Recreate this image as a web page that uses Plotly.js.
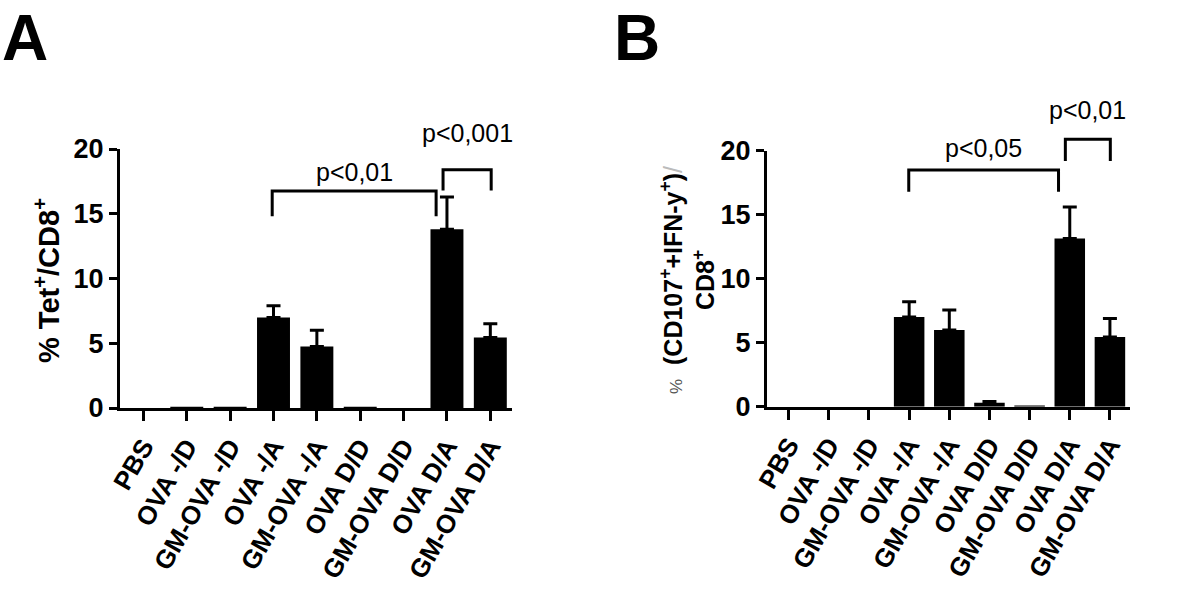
<!DOCTYPE html>
<html>
<head>
<meta charset="utf-8">
<script src="https://cdn.plot.ly/plotly-3.0.1.min.js"></script>
<style>
  body { margin: 0; background: #fff; }
  #chart { width: 1200px; height: 609px; }
</style>
</head>
<body>
<div id="chart"></div>
<script>
// groups, same in both panels
var groups = ["PBS", "OVA -/D", "GM-OVA -/D", "OVA -/A", "GM-OVA -/A",
              "OVA D/D", "GM-OVA D/D", "OVA D/A", "GM-OVA D/A"];

// panel A: % Tet+/CD8+ (mean and upper SEM)
var tetMean = [0, 0.1, 0.1, 7.0, 4.75, 0.1, 0, 13.8, 5.45];
var tetErr  = [0, 0, 0, 0.9, 1.25, 0, 0, 2.5, 1.05];

// panel B: % (CD107+ IFN-y+)/CD8+
var cdMean = [0, 0, 0, 7.0, 6.0, 0.3, 0.1, 13.15, 5.45];
var cdErr  = [0, 0, 0, 1.2, 1.55, 0.1, 0, 2.45, 1.45];

var yTicks = [0, 5, 10, 15, 20];

// significance brackets: from/to in category units, top/bottom in data units
var bracketFromA = [2.97, 6.91];
var bracketToA   = [6.75, 8.02];
var bracketTopA  = [16.75, 18.4];
var bracketLowA  = [14.8, 16.8];
var bracketTextA = ["p<0,01", "p<0,001"];
var bracketTextYA = [17.0, 20.0];

var bracketFromB = [2.99, 6.89];
var bracketToB   = [6.72, 8.01];
var bracketTopB  = [18.5, 20.9];
var bracketLowB  = [16.8, 19.2];
var bracketTextB = ["p<0,05", "p<0,01"];
var bracketTextYB = [19.0, 21.9];

var domYA = [0.330, 0.7553];
var domYB = [0.3322, 0.7525];
var yMax = 20;

function toPaper(v, dom) {
  return dom[0] + (v / yMax) * (dom[1] - dom[0]);
}

var font = "Liberation Sans, Arial, sans-serif";

function barTrace(means, errs, xa, ya) {
  return {
    type: "bar",
    x: groups.map(function(g, i) { return i; }),
    y: means,
    xaxis: xa,
    yaxis: ya,
    width: 0.76,
    marker: { color: "#000" },
    error_y: {
      type: "data",
      symmetric: false,
      // no cap where there is no error
      array: errs.map(function(e) { return e > 0 ? e : NaN; }),
      arrayminus: errs.map(function(e) { return e > 0 ? 0 : NaN; }),
      color: "#000",
      thickness: 3,
      width: 7
    },
    hoverinfo: "none",
    showlegend: false
  };
}

function xAxis(dom, anchor) {
  return {
    domain: dom,
    anchor: anchor,
    range: [-0.54, 8.5],
    tickvals: groups.map(function(g, i) { return i; }),
    ticktext: groups,
    tickangle: -60,
    ticks: "outside",
    ticklen: 10,
    tickwidth: 3,
    tickcolor: "#000",
    showline: true,
    linewidth: 3,
    linecolor: "#000",
    showgrid: false,
    zeroline: false,
    fixedrange: true,
    tickfont: { family: font, size: 26, color: "#000", weight: "bold" }
  };
}

function yAxis(dom, anchor) {
  return {
    domain: dom,
    anchor: anchor,
    range: [0, yMax],
    tickvals: yTicks,
    ticks: "outside",
    ticklen: 8,
    tickwidth: 3,
    tickcolor: "#000",
    showline: true,
    linewidth: 3,
    linecolor: "#000",
    showgrid: false,
    zeroline: false,
    fixedrange: true,
    tickfont: { family: font, size: 27, color: "#000", weight: "bold" }
  };
}

var shapes = [];
var annotations = [];

function addBrackets(from, to, top, low, texts, textY, xref, dom) {
  for (var i = 0; i < from.length; i++) {
    var yt = toPaper(top[i], dom), yl = toPaper(low[i], dom);
    shapes.push({
      type: "path",
      xref: xref,
      yref: "paper",
      path: "M" + from[i] + "," + yl + " L" + from[i] + "," + yt +
            " L" + to[i] + "," + yt + " L" + to[i] + "," + yl,
      line: { color: "#000", width: 3 }
    });
    annotations.push({
      xref: xref,
      yref: "paper",
      x: (from[i] + to[i]) / 2,
      y: toPaper(textY[i], dom),
      yanchor: "bottom",
      showarrow: false,
      text: texts[i],
      font: { family: font, size: 25, color: "#000" }
    });
  }
}

addBrackets(bracketFromA, bracketToA, bracketTopA, bracketLowA, bracketTextA, bracketTextYA, "x", domYA);
addBrackets(bracketFromB, bracketToB, bracketTopB, bracketLowB, bracketTextB, bracketTextYB, "x2", domYB);

// panel letters
annotations.push({
  xref: "paper", yref: "paper", x: 0, y: 1, xanchor: "left", yanchor: "top",
  showarrow: false, text: "<b>A</b>",
  font: { family: font, size: 64, color: "#000" }
});
annotations.push({
  xref: "paper", yref: "paper", x: 0.51, y: 1, xanchor: "left", yanchor: "top",
  showarrow: false, text: "<b>B</b>",
  font: { family: font, size: 64, color: "#000" }
});

// y axis titles
annotations.push({
  xref: "paper", yref: "paper", x: 47 / 1200, y: (609 - 281) / 609,
  xanchor: "center", yanchor: "middle", textangle: -90, showarrow: false,
  text: "<b>% Tet<sup>+</sup>/CD8<sup>+</sup></b>",
  font: { family: font, size: 29, color: "#000" }
});
annotations.push({
  xref: "paper", yref: "paper", x: 687 / 1200, y: (609 - 280) / 609,
  xanchor: "center", yanchor: "middle", textangle: -90, showarrow: false,
  text: "<span style='font-size:17px;font-weight:normal;color:#555'>%</span>  " +
        "<b>(CD107<sup>+</sup>+IFN-y<sup>+</sup>)</b><span style='color:#bbb'>/</span><br>" +
        "<b>CD8<sup>+</sup></b>",
  font: { family: font, size: 25, color: "#000" }
});

var data = [
  barTrace(tetMean, tetErr, "x", "y"),
  barTrace(cdMean, cdErr, "x2", "y2")
];

var layout = {
  width: 1200,
  height: 609,
  margin: { l: 0, r: 0, t: 0, b: 0 },
  paper_bgcolor: "#fff",
  plot_bgcolor: "#fff",
  bargap: 0.24,
  xaxis: xAxis([120 / 1200, 512 / 1200], "y"),
  yaxis: yAxis(domYA, "x"),
  xaxis2: xAxis([767 / 1200, 1130 / 1200], "y2"),
  yaxis2: yAxis(domYB, "x2"),
  shapes: shapes,
  annotations: annotations,
  showlegend: false
};

Plotly.newPlot("chart", data, layout, { displayModeBar: false, staticPlot: true });
</script>
</body>
</html>
